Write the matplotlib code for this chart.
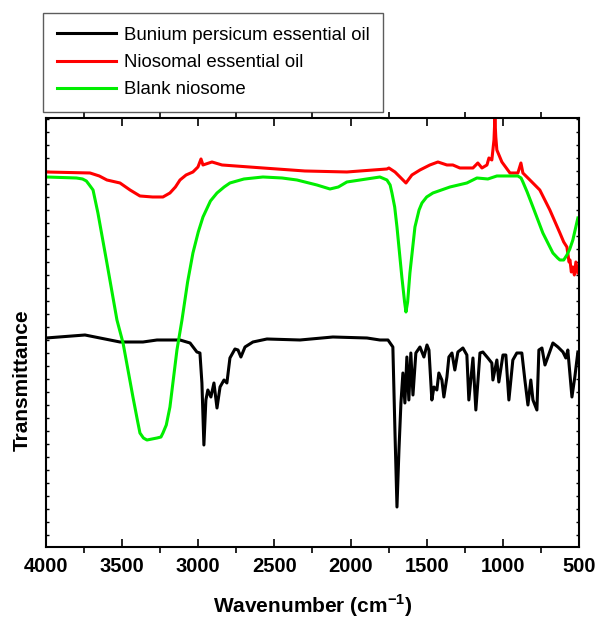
import numpy as np
import matplotlib.pyplot as plt
from matplotlib.ticker import MultipleLocator, FixedLocator

plt.rcParams['font.family'] = ['Liberation Sans', 'DejaVu Sans']

# wavenumbers (cm-1) and transmittance (arbitrary units)
bp_wn = [4000, 3744, 3514, 3363, 3271, 3120, 3054, 3009, 2989, 2976, 2963, 2950, 2937, 2917,
         2897, 2877, 2857, 2831, 2812, 2792, 2759, 2739, 2720, 2693, 2641, 2549, 2332, 2116,
         1892, 1807, 1754, 1722, 1708, 1695, 1682, 1669, 1656, 1643, 1630, 1617, 1604, 1590,
         1571, 1544, 1518, 1498, 1485, 1466, 1452, 1433, 1420, 1400, 1387, 1367, 1354, 1334,
         1315, 1295, 1262, 1236, 1223, 1196, 1177, 1150, 1131, 1098, 1072, 1065, 1039, 1026,
         999, 980, 960, 934, 908, 875, 855, 835, 816, 802, 776, 763, 743, 723, 704, 671, 638,
         605, 586, 573, 546, 527, 507]
bp_t = [209, 212, 205, 205, 207, 207, 204, 195, 194, 164, 102, 147, 157, 150,
        164, 139, 160, 167, 164, 189, 198, 197, 190, 200, 205, 208, 207, 210,
        209, 207, 207, 200, 114, 40, 97, 144, 174, 144, 190, 147, 194, 152,
        194, 200, 190, 202, 197, 147, 160, 157, 174, 167, 150, 170, 190, 194,
        177, 195, 199, 192, 147, 189, 137, 194, 195, 189, 184, 167, 187, 165,
        192, 192, 147, 187, 194, 194, 167, 142, 167, 147, 137, 197, 199, 182,
        190, 204, 200, 195, 189, 197, 150, 170, 195]

nio_wn = [4000, 3711, 3650, 3600, 3514, 3448, 3383, 3300, 3232, 3186, 3150, 3120, 3080, 3035,
          3002, 2982, 2969, 2910, 2844, 2575, 2300, 2024, 1850, 1761, 1748, 1708, 1636, 1597,
          1544, 1479, 1426, 1367, 1328, 1282, 1196, 1164, 1137, 1104, 1091, 1072, 1058, 1052,
          1046, 1039, 1006, 953, 901, 881, 868, 822, 757, 691, 625, 600, 579, 565, 559, 550,
          540, 530, 520, 507]
nio_t = [375, 374, 371, 367, 364, 357, 351, 350, 350, 354, 360, 367, 372, 375,
         380, 388, 382, 385, 382, 379, 376, 375, 377, 378, 379, 375, 364, 372,
         377, 382, 385, 382, 382, 379, 379, 384, 379, 382, 389, 387, 407, 429,
         410, 397, 385, 374, 374, 384, 374, 367, 357, 337, 314, 305, 300, 285, 287, 275,
         280, 272, 285, 274]

blank_wn = [4000, 3800, 3760, 3735, 3715, 3691, 3659, 3600, 3534, 3494, 3429, 3400, 3383, 3360,
            3337, 3271, 3245, 3232, 3210, 3186, 3140, 3107, 3070, 3035, 3000, 2969, 2920, 2877,
            2830, 2792, 2700, 2575, 2450, 2352, 2221, 2135, 2080, 2024, 1807, 1761, 1740, 1728,
            1710, 1695, 1663, 1645, 1636, 1625, 1610, 1577, 1550, 1531, 1500, 1459, 1347, 1236,
            1170, 1098, 1039, 901, 880, 868, 840, 802, 737, 671, 640, 625, 600, 579, 560, 540,
            507]
blank_t = [370, 369, 368, 366, 362, 357, 334, 284, 227, 204, 150, 127, 114, 109,
           107, 109, 110, 114, 122, 140, 197, 227, 265, 294, 315, 330, 346, 354,
           360, 364, 368, 370, 369, 367, 362, 358, 360, 365, 370, 367, 362, 354,
           340, 320, 270, 245, 235, 245, 274, 320, 337, 344, 350, 354, 360, 364,
           369, 368, 371, 371, 369, 365, 355, 340, 314, 294, 289, 287, 287, 292, 298, 307,
           329]

labels = ['Bunium persicum essential oil', 'Niosomal essential oil', 'Blank niosome']
colors = ['black', '#ff0000', '#00ee00']

fig = plt.figure(figsize=(5.95, 6.19), dpi=100)
ax = fig.add_axes([0.0773, 0.1163, 0.8957, 0.6931])

ax.plot(bp_wn, bp_t, color=colors[0], lw=2.2, label=labels[0])
ax.plot(nio_wn, nio_t, color=colors[1], lw=2.2, label=labels[1])
ax.plot(blank_wn, blank_t, color=colors[2], lw=2.2, label=labels[2])

ax.set_xlim(4000, 500)
ax.set_ylim(0, 429)
ax.xaxis.set_major_locator(MultipleLocator(500))
ax.xaxis.set_minor_locator(MultipleLocator(250))
ax.yaxis.set_major_locator(FixedLocator(np.arange(12, 429, 13)))
ax.set_yticklabels([])
ax.tick_params(axis='x', which='major', direction='in', length=6, width=1.2, top=True,
               labelsize=14.5, pad=7)
ax.tick_params(axis='x', which='minor', direction='out', length=4, width=1.2, top=True)
ax.tick_params(axis='y', which='major', direction='in', length=2.5, width=1, right=True)
for lab in ax.get_xticklabels():
    lab.set_fontweight('bold')
for s in ax.spines.values():
    s.set_linewidth(1.5)

ax.set_xlabel('Wavenumber (cm$^{\\mathregular{-1}}$)', fontsize=15, fontweight='bold', labelpad=12)
ax.set_ylabel('Transmittance', fontsize=15, fontweight='bold')
ax.yaxis.set_label_coords(-0.027, 0.39)

leg = fig.legend(loc='upper left', bbox_to_anchor=(0.0723, 0.979), fontsize=13.4,
                 frameon=True, fancybox=False, edgecolor='#333333', handlelength=3.15,
                 handletextpad=0.43, labelspacing=0.54, borderpad=0.75, borderaxespad=0)
leg.get_frame().set_linewidth(1.0)

fig.savefig('out.png', dpi=100)
